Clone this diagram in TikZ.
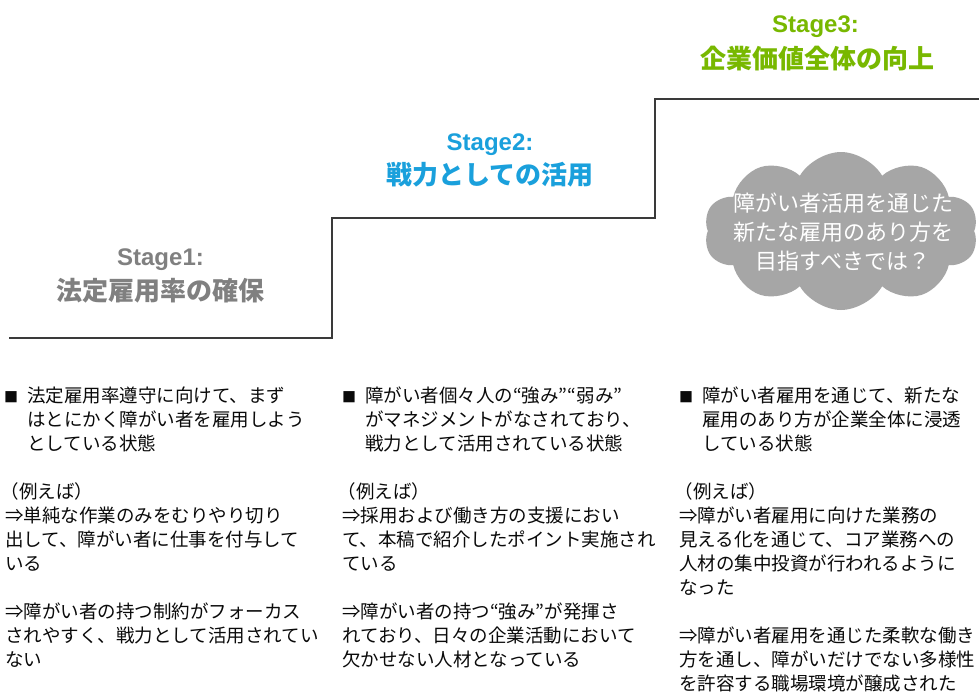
\documentclass[tikz,border=0pt]{standalone}
\usepackage{fontspec}
\setmainfont{Noto Sans CJK JP}
\newfontfamily\latb{Liberation Sans}
\usetikzlibrary{shapes.symbols}
\definecolor{stairc}{HTML}{3A3A3A}
\definecolor{s1c}{HTML}{808080}
\definecolor{s2c}{HTML}{1AA0DC}
\definecolor{s3c}{HTML}{78B800}
\definecolor{cloudc}{HTML}{A6A6A6}
\definecolor{bodyc}{HTML}{0A0A0A}
\tikzset{
  stair/.style={draw=stairc, line width=2.2pt, line join=miter},
  stagelbl/.style={font=\latb\bfseries\fontsize{24}{24}\selectfont, anchor=base, inner sep=0},
  stagejp/.style={font=\bfseries\fontsize{26}{26}\selectfont, anchor=base, inner sep=0},
  bodytxt/.style={font=\fontsize{18.5}{24}\selectfont, text=bodyc, anchor=base west, inner sep=0},
  bulletmk/.style={font=\fontsize{14}{24}\selectfont, text=bodyc, anchor=base west, inner sep=0},
  cloudbg/.style={cloud, cloud puffs=10, cloud puff arc=120, aspect=1.75, fill=cloudc, draw=none, minimum width=274pt, minimum height=158pt, inner sep=0},
  cloudtxt/.style={font=\fontsize{22}{29}\selectfont, text=white, anchor=base, inner sep=0}
}
\newcommand{\lns}[1]{\begin{tabular}[t]{@{}l@{}}#1\end{tabular}}
\newcommand{\clns}[1]{\begin{tabular}[t]{@{}c@{}}#1\end{tabular}}
\begin{document}
\begin{tikzpicture}[x=1pt,y=-1pt]
\useasboundingbox (0,0) rectangle (979,693);
\clip (0,0) rectangle (979,693);
\fill[white] (0,0) rectangle (979,693);
% stair
\coordinate (s0) at (9,338);
\coordinate (s1) at (332,338);
\coordinate (s2) at (332,218);
\coordinate (s3) at (655,218);
\coordinate (s4) at (655,99);
\coordinate (s5) at (990,99);
\draw[stair] (s0) -- (s1) -- (s2) -- (s3) -- (s4) -- (s5);
% stage titles
\node[stagelbl, text=s1c] (st1) at (160.5,265) {Stage1:};
\node[stagejp, text=s1c] (sj1) at (160.5,300) {法定雇用率の確保};
\node[stagelbl, text=s2c] (st2) at (490,150) {Stage2:};
\node[stagejp, text=s2c] (sj2) at (490,184) {戦力としての活用};
\node[stagelbl, text=s3c] (st3) at (815.5,33) {Stage3:};
\node[stagejp, text=s3c] (sj3) at (817,69) {企業価値全体の向上};
% cloud
\node[cloudbg] (cl) at (841,231) {};
\node[cloudtxt] (cltx) at (843,211) {\clns{障がい者活用を通じた\\新たな雇用のあり方を\\目指すべきでは？}};
% column 1
\node[bulletmk] (b1) at (4,402) {■};
\node[bodytxt] (t1) at (27,402) {\lns{法定雇用率遵守に向けて、まず\\はとにかく障がい者を雇用しよう\\としている状態}};
\node[bodytxt] (e1) at (5,498) {\lns{\hspace*{-0.25em}（例えば）\\⇒単純な作業のみをむりやり切り\\出して、障がい者に仕事を付与して\\いる\\ \\⇒障がい者の持つ制約がフォーカス\\されやすく、戦力として活用されてい\\ない}};
% column 2
\node[bulletmk] (b2) at (342,402) {■};
\node[bodytxt] (t2) at (365,402) {\lns{障がい者個々人の“強み”“弱み”\\がマネジメントがなされており、\\戦力として活用されている状態}};
\node[bodytxt] (e2) at (342,498) {\lns{\hspace*{-0.25em}（例えば）\\⇒採用および働き方の支援におい\\て、本稿で紹介したポイント実施され\\ている\\ \\⇒障がい者の持つ“強み”が発揮さ\\れており、日々の企業活動において\\欠かせない人材となっている}};
% column 3
\node[bulletmk] (b3) at (679,402) {■};
\node[bodytxt] (t3) at (702,402) {\lns{障がい者雇用を通じて、新たな\\雇用のあり方が企業全体に浸透\\している状態}};
\node[bodytxt] (e3) at (679,498) {\lns{\hspace*{-0.25em}（例えば）\\⇒障がい者雇用に向けた業務の\\見える化を通じて、コア業務への\\人材の集中投資が行われるように\\なった\\ \\⇒障がい者雇用を通じた柔軟な働き\\方を通し、障がいだけでない多様性\\を許容する職場環境が醸成された}};
\end{tikzpicture}
\end{document}
